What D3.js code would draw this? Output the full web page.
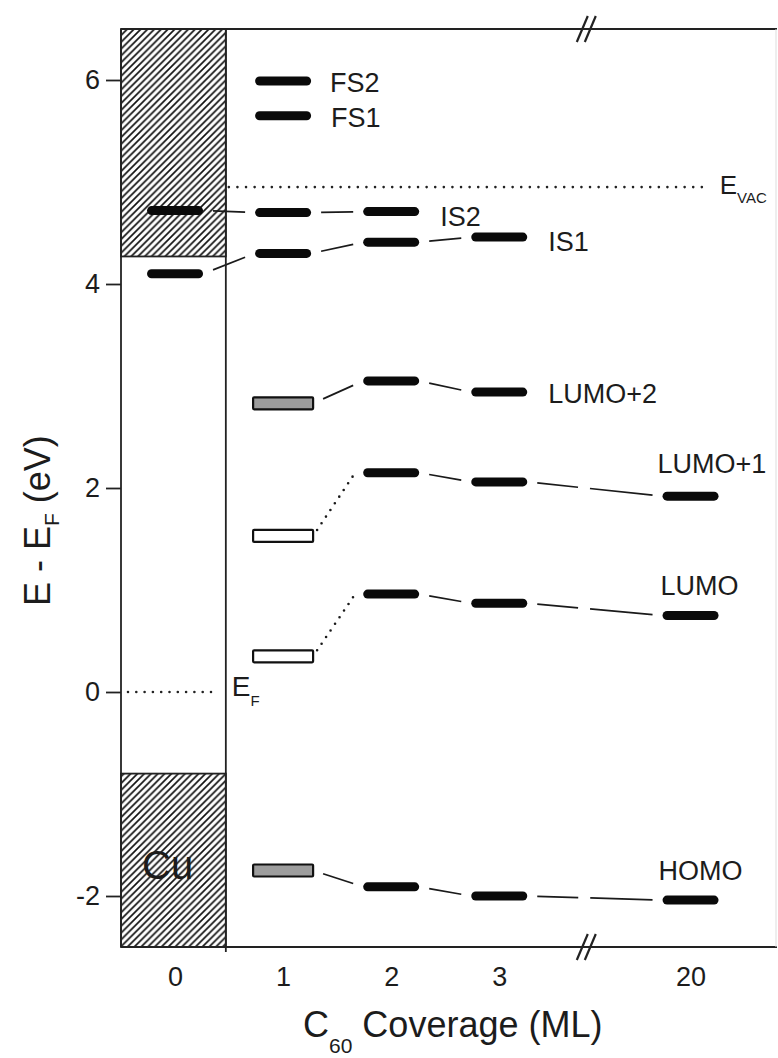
<!DOCTYPE html>
<html>
<head>
<meta charset="utf-8">
<script src="https://cdn.jsdelivr.net/npm/d3@7"></script>
<style>
body { margin: 0; background: #fff; }
text { font-family: "Liberation Sans", Arial, sans-serif; fill: #1c1c1c; }
</style>
</head>
<body>
<svg id="canvas"></svg>
<script>
// coverage categories (broken x axis: 3 -> 20)
let coverage = ["0", "1", "2", "3", "20"]
let slots = [0, 1, 2, 3, 4.77]
let breakSlot = 3.81
let yTicks = [-2, 0, 2, 4, 6]

// energy levels (eV) per coverage, null = no level
let FS2 = [null, 5.99, null, null, null]
let FS1 = [null, 5.65, null, null, null]
let IS2 = [4.72, 4.70, 4.71, null, null]
let IS1 = [4.10, 4.30, 4.41, 4.46, null]
let LUMO2 = [null, 2.83, 3.05, 2.94, null]
let LUMO1 = [null, 1.53, 2.15, 2.06, 1.92]
let LUMO = [null, 0.35, 0.96, 0.87, 0.75]
let HOMO = [null, -1.75, -1.91, -2.00, -2.04]

let EVAC = 4.95
let EF = 0
let cuGapTop = 4.27
let cuGapBottom = -0.80

let series = [
  {name: "FS2", values: FS2},
  {name: "FS1", values: FS1},
  {name: "IS2", values: IS2},
  {name: "IS1", values: IS1},
  {name: "LUMO+2", values: LUMO2},
  {name: "LUMO+1", values: LUMO1},
  {name: "LUMO", values: LUMO},
  {name: "HOMO", values: HOMO}
]

let width = 778
let height = 1058

let svg = d3.select("#canvas")
  .attr("width", width)
  .attr("height", height)

let xScale = d3.scaleLinear().domain([-0.5, 5.57]).range([121, 777])
let yScale = d3.scaleLinear().domain([-2.5, 6.5]).range([947, 29])

let plotLeft = xScale(-0.5)
let plotRight = xScale(5.57)
let plotTop = yScale(6.5)
let plotBottom = yScale(-2.5)
let divider = xScale(0.47)

// hatch pattern for the Cu bands
let defs = svg.append("defs")
defs.append("pattern")
  .attr("id", "hatch")
  .attr("patternUnits", "userSpaceOnUse")
  .attr("width", 6.8)
  .attr("height", 6.8)
  .append("path")
  .attr("d", "M-1,1 l2,-2 M0,6.8 l6.8,-6.8 M5.8,7.8 l2,-2")
  .attr("stroke", "#111")
  .attr("stroke-width", 1.7)

let drawCu = () => {
  svg.append("rect")
    .attr("x", plotLeft).attr("y", plotTop)
    .attr("width", divider - plotLeft)
    .attr("height", yScale(cuGapTop) - plotTop)
    .attr("fill", "url(#hatch)")
    .attr("stroke", "#222").attr("stroke-width", 1.8)
  svg.append("rect")
    .attr("x", plotLeft).attr("y", yScale(cuGapBottom))
    .attr("width", divider - plotLeft)
    .attr("height", plotBottom - yScale(cuGapBottom))
    .attr("fill", "url(#hatch)")
    .attr("stroke", "#222").attr("stroke-width", 1.8)
  svg.append("text")
    .attr("x", plotLeft + 21)
    .attr("y", yScale(-1.83))
    .attr("font-size", 40)
    .text("Cu")
}

let drawFrame = () => {
  let g = svg.append("g").attr("stroke", "#222").attr("stroke-width", 1.8)
  g.append("line").attr("x1", plotLeft).attr("x2", plotLeft).attr("y1", plotTop).attr("y2", plotBottom)
  g.append("line").attr("x1", plotLeft).attr("x2", plotRight).attr("y1", plotTop).attr("y2", plotTop)
  g.append("line").attr("x1", plotLeft).attr("x2", plotRight).attr("y1", plotBottom).attr("y2", plotBottom)
  g.append("line").attr("x1", divider).attr("x2", divider).attr("y1", plotTop).attr("y2", plotBottom + 5)
  g.append("line").attr("x1", plotRight - 1).attr("x2", plotRight - 1).attr("y1", plotTop).attr("y2", plotBottom)
    .attr("stroke", "#ddd").attr("stroke-width", 1)

  // axis break marks
  let xb = xScale(breakSlot)
  ;[plotTop, plotBottom].forEach((yb) => {
    g.append("line").attr("x1", xb - 10).attr("y1", yb + 13).attr("x2", xb + 1).attr("y2", yb - 13)
      .attr("stroke-width", 2.2)
    g.append("line").attr("x1", xb - 2).attr("y1", yb + 13).attr("x2", xb + 9).attr("y2", yb - 13)
      .attr("stroke-width", 2.2)
  })
}

let drawReferenceLines = () => {
  svg.append("line")
    .attr("x1", divider + 3).attr("x2", xScale(4.93))
    .attr("y1", yScale(EVAC)).attr("y2", yScale(EVAC))
    .attr("stroke", "#222").attr("stroke-width", 2.6)
    .attr("stroke-linecap", "round")
    .attr("stroke-dasharray", "0,8.6")
  svg.append("line")
    .attr("x1", plotLeft + 7).attr("x2", divider - 12)
    .attr("y1", yScale(EF)).attr("y2", yScale(EF))
    .attr("stroke", "#222").attr("stroke-width", 2.6)
    .attr("stroke-linecap", "round")
    .attr("stroke-dasharray", "0,8.3")

  let ev = svg.append("text")
    .attr("x", xScale(5.04))
    .attr("y", yScale(EVAC) + 7)
    .attr("font-size", 26)
  ev.append("tspan").text("E")
  ev.append("tspan").attr("font-size", 15).attr("dy", 9).text("VAC")

  let ef = svg.append("text")
    .attr("x", divider + 6)
    .attr("y", yScale(EF) + 4)
    .attr("font-size", 28)
  ef.append("tspan").text("E")
  ef.append("tspan").attr("font-size", 15).attr("dy", 10).text("F")
}

// box style at 1 ML for some levels
let boxFill = {"LUMO+2": "#9d9d9d", "LUMO+1": "#fff", "LUMO": "#fff", "HOMO": "#9d9d9d"}

let isBox = (name, i) => i === 1 && boxFill[name] !== undefined
let halfWidth = (name, i) => isBox(name, i) ? 30 : 28

let drawConnectors = () => {
  series.forEach((s) => {
    for (let i = 0; i < s.values.length - 1; i++) {
      let a = s.values[i]
      let b = s.values[i + 1]
      if (a === null || b === null) continue
      let dotted = i === 1 && (s.name === "LUMO+1" || s.name === "LUMO")
      let xa = xScale(slots[i]) + halfWidth(s.name, i)
      let xb = xScale(slots[i + 1]) - halfWidth(s.name, i + 1)
      let line = svg.append("line")
        .attr("stroke", "#1a1a1a")
      if (dotted) {
        line.attr("x1", xa + 4).attr("y1", yScale(a) - 6)
          .attr("x2", xb - 8).attr("y2", yScale(b))
          .attr("stroke-width", 2.6)
          .attr("stroke-linecap", "round")
          .attr("stroke-dasharray", "0,8")
      } else {
        let ya = yScale(a)
        let yb = yScale(b)
        let pad = 10
        let t1 = pad / (xb - xa)
        let t2 = 1 - pad / (xb - xa)
        line.attr("x1", xa + pad).attr("y1", ya + (yb - ya) * t1)
          .attr("x2", xb - pad).attr("y2", ya + (yb - ya) * t2)
          .attr("stroke-width", 1.7)
          .attr("stroke-dasharray", "41,12,1000")
      }
    }
  })
}

let drawLevels = () => {
  series.forEach((s) => {
    let pts = s.values
      .map((v, i) => ({v: v, i: i}))
      .filter((d) => d.v !== null)
    svg.selectAll(null)
      .data(pts)
      .enter()
      .append("rect")
      .attr("x", (d) => xScale(slots[d.i]) - halfWidth(s.name, d.i))
      .attr("width", (d) => 2 * halfWidth(s.name, d.i))
      .attr("y", (d) => yScale(d.v) - (isBox(s.name, d.i) ? 6 : 4.5))
      .attr("height", (d) => isBox(s.name, d.i) ? 12 : 9)
      .attr("rx", (d) => isBox(s.name, d.i) ? 1 : 4.5)
      .attr("fill", (d) => isBox(s.name, d.i) ? boxFill[s.name] : "#0a0a0a")
      .attr("stroke", (d) => isBox(s.name, d.i) ? "#111" : "none")
      .attr("stroke-width", 2.2)
  })
}

let drawLabels = () => {
  let labels = [
    {text: "FS2", x: xScale(slots[1]) + 47, y: yScale(FS2[1]) + 1},
    {text: "FS1", x: xScale(slots[1]) + 48, y: yScale(FS1[1]) + 2},
    {text: "IS2", x: xScale(slots[2]) + 49, y: yScale(IS2[2]) + 5},
    {text: "IS1", x: xScale(slots[3]) + 49, y: yScale(IS1[3]) + 4},
    {text: "LUMO+2", x: xScale(slots[3]) + 49, y: yScale(LUMO2[3]) + 1},
    {text: "LUMO+1", x: xScale(slots[4]) - 33, y: yScale(LUMO1[4]) - 33},
    {text: "LUMO", x: xScale(slots[4]) - 30, y: yScale(LUMO[4]) - 30},
    {text: "HOMO", x: xScale(slots[4]) - 32, y: yScale(HOMO[4]) - 30}
  ]
  svg.selectAll(null)
    .data(labels)
    .enter()
    .append("text")
    .attr("x", (d) => d.x)
    .attr("y", (d) => d.y)
    .attr("dy", "0.36em")
    .attr("font-size", 27)
    .text((d) => d.text)
}

let drawAxes = () => {
  let yAxis = d3.axisLeft(yScale)
    .tickValues(yTicks)
    .tickFormat((d) => String(d))
    .tickSize(15)
    .tickPadding(6)
  let gy = svg.append("g")
    .attr("transform", "translate(" + plotLeft + ",0)")
    .call(yAxis)
  gy.select(".domain").remove()
  gy.selectAll("line").attr("stroke", "#222").attr("stroke-width", 1.8)
  gy.selectAll("text")
    .attr("font-size", 27)
    .style("font-family", "'Liberation Sans', Arial, sans-serif")

  let xAxis = d3.axisBottom(xScale)
    .tickValues(slots)
    .tickFormat((d, i) => coverage[i])
    .tickSize(0)
    .tickPadding(20)
  let gx = svg.append("g")
    .attr("transform", "translate(0," + plotBottom + ")")
    .call(xAxis)
  gx.select(".domain").remove()
  gx.selectAll("text")
    .attr("font-size", 27)
    .style("font-family", "'Liberation Sans', Arial, sans-serif")

  let xt = svg.append("text")
    .attr("x", 303)
    .attr("y", 1037)
    .attr("font-size", 36)
  xt.append("tspan").text("C")
  xt.append("tspan").attr("font-size", 21).attr("dy", 16).text("60")
  xt.append("tspan").attr("dy", -16).text(" Coverage (ML)")

  let yt = svg.append("text")
    .attr("transform", "translate(50,606) rotate(-90)")
    .attr("font-size", 36)
  yt.append("tspan").text("E - E")
  yt.append("tspan").attr("font-size", 21).attr("dy", 9).text("F")
  yt.append("tspan").attr("dy", -9).text(" (eV)")
}

drawCu()
drawReferenceLines()
drawConnectors()
drawLevels()
drawLabels()
drawAxes()
drawFrame()
</script>
</body>
</html>
